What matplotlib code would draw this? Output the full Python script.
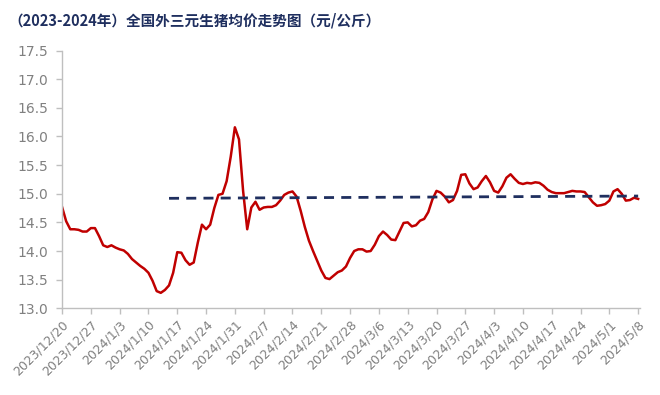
import numpy as np
import pandas as pd
import matplotlib
matplotlib.use("Agg")
import matplotlib.pyplot as plt

plt.rcParams['font.family'] = ['Noto Sans CJK SC', 'DejaVu Sans']

# daily average price, 2023/12/20 .. 2024/5/8 (yuan/kg)
start_date = '2023-12-20'
end_date = '2024-05-08'
price = [
    14.77, 14.52, 14.38, 14.38, 14.37, 14.34, 14.34, 14.40, 14.40, 14.26,
    14.10, 14.07, 14.10, 14.06, 14.03, 14.01, 13.95, 13.86, 13.80, 13.74,
    13.69, 13.62, 13.48, 13.30, 13.27, 13.32, 13.40, 13.62, 13.98, 13.97,
    13.84, 13.76, 13.80, 14.15, 14.46, 14.38, 14.46, 14.75, 14.98, 15.00,
    15.22, 15.65, 16.16, 15.95, 15.05, 14.38, 14.76, 14.86, 14.72, 14.76,
    14.77, 14.77, 14.80, 14.88, 14.98, 15.02, 15.04, 14.95, 14.70, 14.42,
    14.18, 14.00, 13.83, 13.66, 13.53, 13.51, 13.57, 13.63, 13.66, 13.73,
    13.88, 14.00, 14.03, 14.03, 13.99, 14.00, 14.11, 14.26, 14.34, 14.28,
    14.20, 14.19, 14.34, 14.49, 14.50, 14.43, 14.45, 14.53, 14.56, 14.68,
    14.90, 15.05, 15.02, 14.95, 14.85, 14.89, 15.05, 15.33, 15.34, 15.18,
    15.08, 15.11, 15.22, 15.31, 15.20, 15.05, 15.02, 15.13, 15.28, 15.34,
    15.26, 15.19, 15.17, 15.19, 15.18, 15.20, 15.19, 15.14, 15.07, 15.03,
    15.01, 15.01, 15.01, 15.03, 15.05, 15.04, 15.04, 15.03, 14.94, 14.85,
    14.79, 14.80, 14.82, 14.88, 15.04, 15.08, 15.00, 14.88, 14.89, 14.93,
    14.91,
]

# dashed trend line
trend_dates = ['2024-01-15', '2024-05-08']
trend_values = [14.92, 14.96]

tick_dates = pd.date_range(start_date, end_date, freq='7D')
tick_labels = ['2023/12/20', '2023/12/27', '2024/1/3', '2024/1/10', '2024/1/17',
               '2024/1/24', '2024/1/31', '2024/2/7', '2024/2/14', '2024/2/21',
               '2024/2/28', '2024/3/6', '2024/3/13', '2024/3/20', '2024/3/27',
               '2024/4/3', '2024/4/10', '2024/4/17', '2024/4/24', '2024/5/1',
               '2024/5/8']

title = '（2023-2024年）全国外三元生猪均价走势图（元/公斤）'

dates = pd.date_range(start_date, end_date, freq='D')

fig = plt.figure(figsize=(6.6, 3.95), dpi=100)
ax = fig.add_axes([0.094, 0.2195, 0.876, 0.6525])

ax.plot(dates, price, color='#C00000', lw=1.8, solid_joinstyle='round')
ax.plot(pd.to_datetime(trend_dates), trend_values, color='#1F2F5F', lw=2.0,
        dashes=(3.6, 2.6))

ax.set_ylim(13.0, 17.5)
ax.set_yticks(np.arange(13.0, 17.51, 0.5))
ax.set_yticklabels([f'{v:.1f}' for v in np.arange(13.0, 17.51, 0.5)],
                   family='DejaVu Sans', fontsize=10, color='#808080')

ax.set_xlim(dates[0], dates[-1] + pd.Timedelta(hours=12))
ax.set_xticks(tick_dates)
ax.set_xticklabels(tick_labels, rotation=45, ha='right', va='top',
                   rotation_mode='anchor', family='DejaVu Sans',
                   fontsize=9, color='#7F7F7F')

for s in ['top', 'right']:
    ax.spines[s].set_visible(False)
for s in ['left', 'bottom']:
    ax.spines[s].set_color('#BFBFBF')
    ax.spines[s].set_linewidth(1.0)
ax.tick_params(axis='both', direction='out', length=4, color='#BFBFBF', width=1.0)
ax.tick_params(axis='x', pad=3)
ax.tick_params(axis='y', pad=6)

fig.text(0.012, 0.947, title, fontsize=10.5, fontweight='bold',
         color='#1F2F5F', ha='left', va='center')

fig.savefig('out.png', dpi=100)
